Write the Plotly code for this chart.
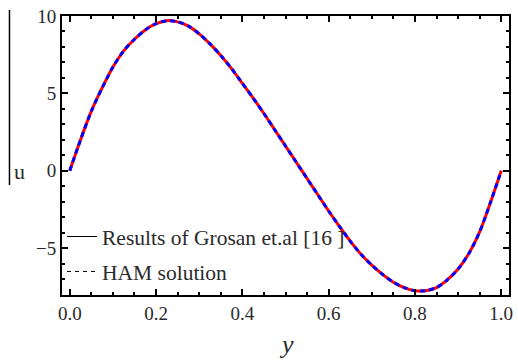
import plotly.graph_objects as go

# Data
y_vals = [0.0, 0.025, 0.05, 0.075, 0.1, 0.125, 0.15, 0.175, 0.2, 0.225, 0.25,
          0.275, 0.3, 0.325, 0.35, 0.375, 0.4, 0.425, 0.45, 0.475, 0.5,
          0.525, 0.55, 0.575, 0.6, 0.625, 0.65, 0.675, 0.7, 0.725, 0.75,
          0.775, 0.8, 0.825, 0.85, 0.875, 0.9, 0.925, 0.95, 0.975, 1.0]
grosan_u = [0.0, 2.0, 3.85, 5.35, 6.7, 7.75, 8.5, 9.1, 9.5, 9.7, 9.62,
            9.35, 8.85, 8.2, 7.45, 6.6, 5.65, 4.7, 3.7, 2.65, 1.6,
            0.55, -0.5, -1.55, -2.6, -3.6, -4.55, -5.4, -6.1, -6.7, -7.2,
            -7.55, -7.75, -7.75, -7.55, -7.05, -6.35, -5.35, -3.95, -2.05, 0.0]
ham_u = list(grosan_u)

legend_labels = ["Results of Grosan et.al [16 ]", "HAM solution"]
x_ticks = [0.0, 0.2, 0.4, 0.6, 0.8, 1.0]
x_tick_text = ["0.0", "0.2", "0.4", "0.6", "0.8", "1.0"]
y_ticks = [-5, 0, 5, 10]

SERIF = "Liberation Serif, Times New Roman, serif"
TXT = "#2a2a2a"

fig = go.Figure()
fig.add_trace(go.Scatter(x=y_vals, y=grosan_u, mode="lines",
                         line=dict(color="#ff0000", width=3, shape="spline", smoothing=0.8),
                         showlegend=False, hoverinfo="skip"))
fig.add_trace(go.Scatter(x=y_vals, y=ham_u, mode="lines",
                         line=dict(color="#0000ff", width=3, dash="5px,4px",
                                   shape="spline", smoothing=0.8),
                         showlegend=False, hoverinfo="skip"))
# legend entries (black samples as in the reference)
fig.add_trace(go.Scatter(x=[None], y=[None], mode="lines", name=legend_labels[0],
                         line=dict(color="black", width=1), legendgroup="a"))
fig.add_trace(go.Scatter(x=[None], y=[None], mode="lines", name=legend_labels[1],
                         line=dict(color="black", width=1, dash="4px,4px"), legendgroup="b"))

axis_common = dict(showgrid=False, zeroline=False, showline=True, linecolor="black",
                   linewidth=2, mirror="ticks", ticks="inside", ticklen=6, tickwidth=2,
                   tickcolor="black", tickfont=dict(family=SERIF, size=19, color=TXT))

fig.update_xaxes(range=[-0.018, 1.018], tickvals=x_ticks, ticktext=x_tick_text,
                 minor=dict(dtick=0.05, ticks="inside", ticklen=3, tickwidth=1.5,
                            tickcolor="black", showgrid=False),
                 **axis_common)
fig.update_yaxes(range=[-8.03, 10], tickvals=y_ticks,
                 minor=dict(dtick=1, ticks="inside", ticklen=3, tickwidth=1.5,
                            tickcolor="black", showgrid=False),
                 **axis_common)

fig.update_layout(
    width=518, height=360,
    margin=dict(l=62, r=5, t=16, b=65),
    plot_bgcolor="white", paper_bgcolor="white",
    legend=dict(x=0.0, y=0.283, xanchor="left", yanchor="top",
                bgcolor="rgba(0,0,0,0)", font=dict(family=SERIF, size=21.5, color=TXT),
                traceorder="grouped", tracegroupgap=4, itemwidth=30),
    annotations=[
        dict(text="u", xref="paper", yref="paper", x=-0.0955, y=0.441,
             xanchor="center", yanchor="middle",
             showarrow=False, font=dict(family=SERIF, size=22, color=TXT)),
        dict(text="<i>y</i>", xref="paper", yref="paper", x=0.503, y=-0.178,
             xanchor="center", yanchor="middle",
             showarrow=False, font=dict(family=SERIF, size=26, color=TXT)),
    ],
    shapes=[dict(type="line", xref="paper", yref="paper", x0=-0.1175, x1=-0.1175,
                 y0=1.0215, y1=0.394, line=dict(color="black", width=1.5))],
)

fig.write_html("out.html")
